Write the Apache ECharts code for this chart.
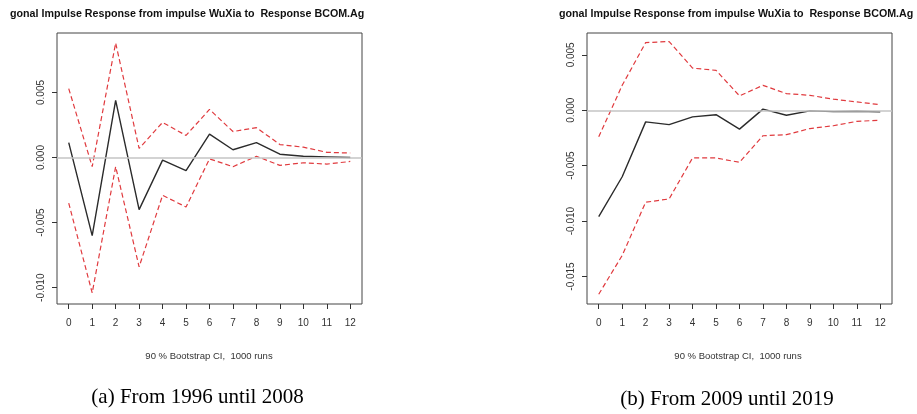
<!DOCTYPE html>
<html>
<head>
<meta charset="utf-8">
<script src="https://cdn.jsdelivr.net/npm/echarts@6/dist/echarts.min.js"></script>
<style>
  html, body { margin: 0; padding: 0; background: #fff; }
  #chart { width: 917px; height: 414px; }
</style>
</head>
<body>
<div id="chart"></div>
<script>
// horizon steps
const steps = ['0', '1', '2', '3', '4', '5', '6', '7', '8', '9', '10', '11', '12']

// (a) 1996 - 2008
const irfA = [0.00115, -0.0060, 0.0044, -0.0040, -0.0002, -0.0010, 0.0018, 0.0006, 0.00115, 0.00026, 0.0001, 0.00005, 0.0]
const upperA = [0.0053, -0.0007, 0.0088, 0.0007, 0.0027, 0.0017, 0.0037, 0.0020, 0.0023, 0.0010, 0.0008, 0.0004, 0.00035]
const lowerA = [-0.0035, -0.0104, -0.0007, -0.0084, -0.0029, -0.0038, -0.0001, -0.0007, 0.0001, -0.0006, -0.0004, -0.0005, -0.0003]
const yTicksA = [-0.01, -0.005, 0, 0.005]

// (b) 2009 - 2019
const irfB = [-0.0096, -0.0060, -0.00105, -0.0013, -0.0006, -0.0004, -0.0017, 0.0001, -0.00045, -0.00006, -0.00012, -0.00009, -0.00015]
const upperB = [-0.0024, 0.00225, 0.0061, 0.0062, 0.0038, 0.0036, 0.0013, 0.00225, 0.0015, 0.00135, 0.0010, 0.00075, 0.0005]
const lowerB = [-0.0166, -0.0131, -0.0083, -0.0080, -0.0043, -0.0043, -0.0047, -0.0023, -0.0022, -0.00165, -0.0014, -0.0010, -0.0009]
const yTicksB = [-0.015, -0.01, -0.005, 0, 0.005]

const titleText = 'gonal Impulse Response from impulse WuXia to  Response BCOM.Ag'
const ciText = '90 % Bootstrap CI,  1000 runs'

var mychart = echarts.init(document.getElementById('chart'))

function xAx(i) {
  return {
    type: 'category', gridIndex: i, data: steps, boundaryGap: true, position: 'bottom',
    axisLine: { show: false, onZero: false },
    axisTick: { show: true, alignWithLabel: true, interval: 0, length: 5, lineStyle: { color: '#333' } },
    axisLabel: { interval: 0, margin: 14, fontSize: 10, color: '#333', fontFamily: 'Liberation Sans' },
    splitLine: { show: false }
  }
}

function yAx(i, min, max, ticks) {
  return {
    type: 'value', gridIndex: i, min: min, max: max,
    axisLine: { show: false },
    axisTick: { show: true, length: 5, customValues: ticks, lineStyle: { color: '#333' } },
    axisLabel: {
      customValues: ticks, rotate: 90, margin: 11, fontSize: 10, color: '#333', fontFamily: 'Liberation Sans',
      formatter: v => v.toFixed(3)
    },
    splitLine: { show: false }
  }
}

function ln(data, idx, red, zero) {
  const s = {
    type: 'line', data: data, xAxisIndex: idx, yAxisIndex: idx,
    symbol: 'none', animation: false,
    lineStyle: red
      ? { color: '#e03a3e', width: 1.2, type: [5, 3] }
      : { color: '#2b2b2b', width: 1.4 },
    z: red ? 3 : 4
  }
  if (zero) {
    s.markLine = {
      silent: true, symbol: 'none', label: { show: false },
      lineStyle: { color: '#c4c4c4', width: 1.6, type: 'solid' },
      data: [{ yAxis: 0 }]
    }
  }
  return s
}

const titleStyle = { fontSize: 10.7, fontWeight: 'bold', color: '#111', fontFamily: 'Liberation Sans' }

const option = {
  backgroundColor: '#fff',
  animation: false,
  title: [
    { text: titleText, left: 5, top: 4, textStyle: titleStyle },
    { text: titleText, left: 554, top: 4, textStyle: titleStyle }
  ],
  grid: [
    { left: 57, top: 33, right: 555, bottom: 110, show: true, borderColor: '#444', borderWidth: 1, backgroundColor: 'transparent' },
    { left: 587, top: 33, right: 25, bottom: 110, show: true, borderColor: '#444', borderWidth: 1, backgroundColor: 'transparent' }
  ],
  xAxis: [xAx(0), xAx(1)],
  yAxis: [yAx(0, -0.01125, 0.00957, yTicksA), yAx(1, -0.01748, 0.00697, yTicksB)],
  series: [
    ln(lowerA, 0, true, true), ln(upperA, 0, true), ln(irfA, 0, false),
    ln(lowerB, 1, true, true), ln(upperB, 1, true), ln(irfB, 1, false)
  ],
  graphic: [
    { type: 'text', x: 209, y: 356, style: { text: ciText, fontSize: 9.5, fill: '#333', fontFamily: 'Liberation Sans', align: 'center', verticalAlign: 'middle' } },
    { type: 'text', x: 738, y: 356, style: { text: ciText, fontSize: 9.5, fill: '#333', fontFamily: 'Liberation Sans', align: 'center', verticalAlign: 'middle' } },
    { type: 'text', x: 197.5, y: 397, style: { text: '(a) From 1996 until 2008', fontSize: 21, fill: '#000', fontFamily: 'Liberation Serif', align: 'center', verticalAlign: 'middle' } },
    { type: 'text', x: 727, y: 399, style: { text: '(b) From 2009 until 2019', fontSize: 21, fill: '#000', fontFamily: 'Liberation Serif', align: 'center', verticalAlign: 'middle' } }
  ]
}

option && mychart.setOption(option)
</script>
</body>
</html>
